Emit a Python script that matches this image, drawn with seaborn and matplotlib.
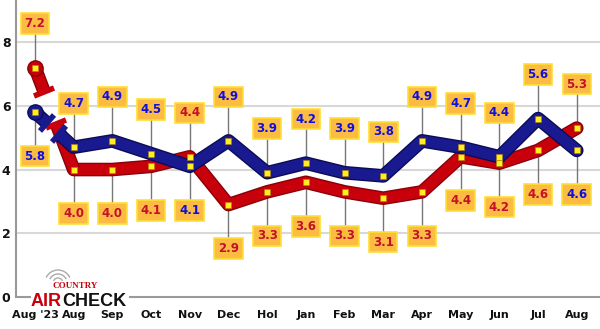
import numpy as np
import pandas as pd
import seaborn as sns
import matplotlib
matplotlib.use("Agg")
import matplotlib.pyplot as plt
import matplotlib.patheffects as pe
from matplotlib.markers import MarkerStyle
from matplotlib.transforms import Affine2D
from matplotlib.patches import Rectangle, Arc

months = ["Aug '23", "Aug", "Sep", "Oct", "Nov", "Dec", "Hol", "Jan", "Feb",
          "Mar", "Apr", "May", "Jun", "Jul", "Aug"]
red_vals = [7.2, 4.0, 4.0, 4.1, 4.4, 2.9, 3.3, 3.6, 3.3, 3.1, 3.3, 4.4, 4.2, 4.6, 5.3]
blue_vals = [5.8, 4.7, 4.9, 4.5, 4.1, 4.9, 3.9, 4.2, 3.9, 3.8, 4.9, 4.7, 4.4, 5.6, 4.6]
y_ticks = [0, 2, 4, 6, 8]

RED = "#c8000c"
RED_DARK = "#8a0008"
BLUE = "#1a1a90"
BLUE_DARK = "#0c0c55"
RED_TXT = "#c4102a"
BLUE_TXT = "#1010dd"

sns.set_theme(style="white")
plt.rcParams['font.family'] = ['DejaVu Sans']

fig = plt.figure(figsize=(6.0, 3.29), dpi=100)
ax = fig.add_axes([16/600, 32/329, 584/600, 297/329])
x = np.arange(len(months))
ax.set_xlim(-0.49, 14.6)
ax.set_ylim(0, 9.32)

for yv in y_ticks[1:]:
    ax.axhline(yv, color="#d8d8d8", lw=1.5, zorder=0)

df = pd.DataFrame({"x": np.concatenate([x[1:], x[1:]]),
                   "v": red_vals[1:] + blue_vals[1:],
                   "s": ["red"] * 14 + ["blue"] * 14})
lw = 7.8
for name, col, dark, z in [("red", RED, RED_DARK, 2), ("blue", BLUE, BLUE_DARK, 3)]:
    sub = df[df.s == name]
    sns.lineplot(data=sub, x="x", y="v", color=col, lw=lw, ax=ax, zorder=z,
                 solid_capstyle="round", solid_joinstyle="round", legend=False,
                 path_effects=[pe.Stroke(linewidth=lw + 2, foreground=dark), pe.Normal()])

fig.canvas.draw()
# broken first segment
for vals, col, dark, z, f1, f2 in [(red_vals, RED, RED_DARK, 2, 0.24, 0.55),
                                   (blue_vals, BLUE, BLUE_DARK, 3, 0.30, 0.62)]:
    y0, y1 = vals[0], vals[1]
    p0 = ax.transData.transform((0, y0)); p1 = ax.transData.transform((1, y1))
    ang = np.degrees(np.arctan2(p1[1] - p0[1], p1[0] - p0[0]))
    for a, b in [(0, f1), (f2, 1)]:
        xs = [a, b]; ys = [y0 + (y1 - y0) * a, y0 + (y1 - y0) * b]
        ax.plot(xs, ys, color=col, lw=lw, zorder=z, solid_capstyle="butt",
                path_effects=[pe.Stroke(linewidth=lw + 2, foreground=dark), pe.Normal()])
    ms = MarkerStyle("_", transform=Affine2D().rotate_deg(ang + 90))
    for f in (f1, f2):
        ax.plot([f], [y0 + (y1 - y0) * f], marker=ms, markersize=15, mew=4,
                color=col, zorder=z, ls="none")
    ax.plot([0], [y0], marker="o", markersize=11, color=col, mec=dark, zorder=z, ls="none")

# markers
for vals in (red_vals, blue_vals):
    ax.scatter(x, vals, marker="s", s=14, color="#ffee22", edgecolors="#b08000",
               linewidths=0.4, zorder=6)

# labels
off = 1.38
for i in range(len(months)):
    r, b = red_vals[i], blue_vals[i]
    for v, other, tc in [(r, b, RED_TXT), (b, r, BLUE_TXT)]:
        ly = v + off if v >= other else v - off
        ax.plot([i, i], [v, ly], color="#777777", lw=1.0, zorder=1)
        ax.text(i, ly, f"{v:.1f}", ha="center", va="center", fontsize=8.5,
                fontweight="bold", color=tc, zorder=7,
                bbox=dict(boxstyle="square,pad=0.32", facecolor="#fcbc44",
                          edgecolor="#ffe033", lw=1.2))

ax.set_xticks(x)
ax.set_xticklabels(months, fontsize=8, fontweight="bold", color="#111111")
ax.set_yticks(y_ticks)
ax.set_yticklabels([str(t) for t in y_ticks], fontsize=9, fontweight="bold", color="#111111")
ax.tick_params(axis="x", direction="in", length=8, color="#888888", width=1.2, pad=9)
ax.tick_params(axis="y", length=0, pad=4)
for s in ["top", "right"]:
    ax.spines[s].set_visible(False)
for s in ["left", "bottom"]:
    ax.spines[s].set_color("#999999")
    ax.spines[s].set_linewidth(1.5)
ax.set_xlabel(""); ax.set_ylabel("")

# logo
fig.patches.append(Rectangle((31/600, 1 - 306/329), 98/600, 36/329, transform=fig.transFigure,
                             facecolor="white", edgecolor="none", zorder=8))
fig.text(75/600, 1 - 286/329, "COUNTRY", ha="center", va="center", fontsize=6.5,
         fontweight="bold", color=RED, family="Liberation Serif", zorder=9)
fig.text(62/600, 1 - 301/329, "AIR", ha="right", va="center", fontsize=13,
         fontweight="bold", color=RED, family="Liberation Sans", zorder=9)
fig.text(62/600, 1 - 301/329, "CHECK", ha="left", va="center", fontsize=13,
         fontweight="bold", color="#111111", family="Liberation Sans", zorder=9)
for rr in (5, 9, 13):
    fig.patches.append(Arc((58/600, 1 - 283/329), rr/600*2, rr/329*2,
                           theta1=40, theta2=140, transform=fig.transFigure,
                           color="#aaaaaa", lw=1, zorder=9))

fig.savefig("out.png", dpi=100)
